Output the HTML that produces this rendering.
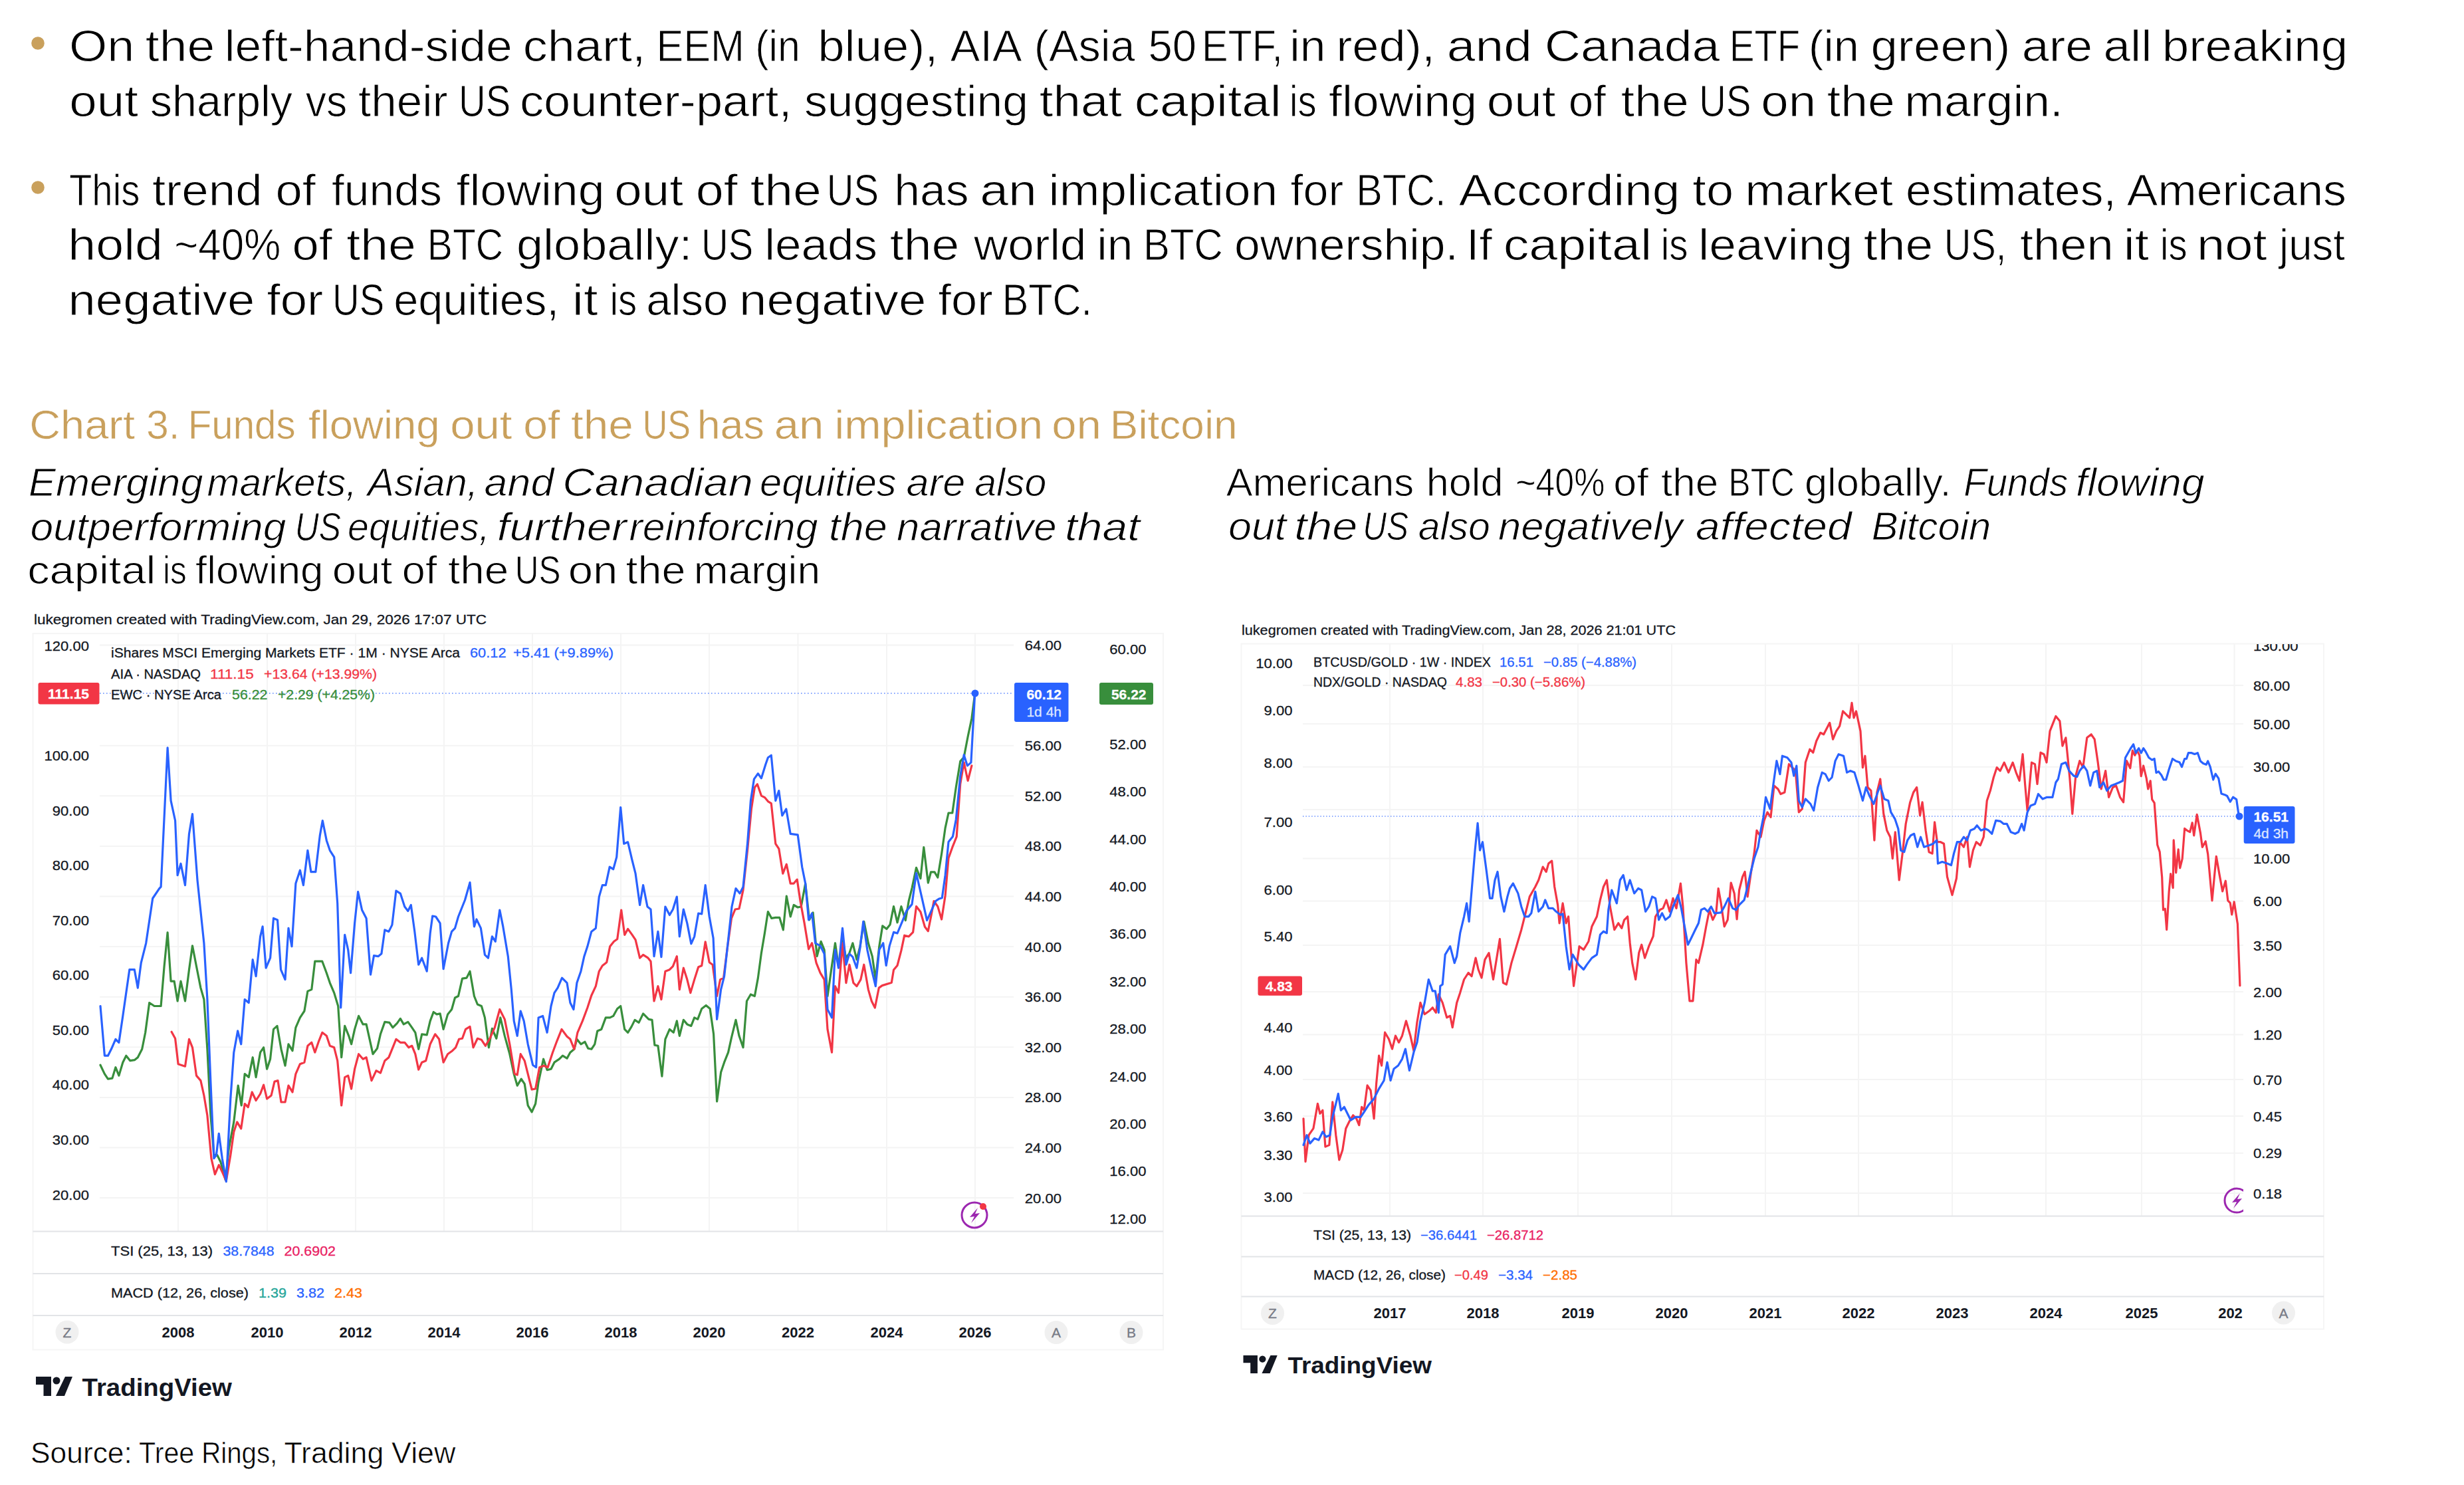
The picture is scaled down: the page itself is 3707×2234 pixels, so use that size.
<!DOCTYPE html>
<html><head><meta charset="utf-8"><style>
html,body{margin:0;padding:0;background:#fff;width:3707px;height:2234px;overflow:hidden}
svg{display:block}
text{font-family:"Liberation Sans",sans-serif}
</style></head><body>
<svg width="3707" height="2234" viewBox="0 0 3707 2234" font-family="Liberation Sans, sans-serif"><defs><clipPath id="clipL"><rect x="50" y="954" width="1475" height="898"/></clipPath><clipPath id="clipR"><rect x="1868" y="969" width="1507" height="860"/></clipPath><clipPath id="clipBolt"><rect x="3330" y="1770" width="45" height="80"/></clipPath></defs><circle cx="57" cy="65" r="9.8" fill="#C9A05C"/>
<circle cx="57" cy="282" r="9.8" fill="#C9A05C"/>
<text x="104.01" y="92.2" font-size="67" fill="#000" textLength="98.27" lengthAdjust="spacingAndGlyphs" stroke="#fff" stroke-width="1.0">On</text>
<text x="218.86" y="92.2" font-size="67" fill="#000" textLength="104.48" lengthAdjust="spacingAndGlyphs" stroke="#fff" stroke-width="1.0">the</text>
<text x="337.68" y="92.2" font-size="67" fill="#000" textLength="432.99" lengthAdjust="spacingAndGlyphs" stroke="#fff" stroke-width="1.0">left-hand-side</text>
<text x="786.86" y="92.2" font-size="67" fill="#000" textLength="184.78" lengthAdjust="spacingAndGlyphs" stroke="#fff" stroke-width="1.0">chart,</text>
<text x="987.48" y="92.2" font-size="67" fill="#000" textLength="132.53" lengthAdjust="spacingAndGlyphs" stroke="#fff" stroke-width="1.0">EEM</text>
<text x="1136.22" y="92.2" font-size="67" fill="#000" textLength="67.74" lengthAdjust="spacingAndGlyphs" stroke="#fff" stroke-width="1.0">(in</text>
<text x="1230.33" y="92.2" font-size="67" fill="#000" textLength="181.18" lengthAdjust="spacingAndGlyphs" stroke="#fff" stroke-width="1.0">blue),</text>
<text x="1429.87" y="92.2" font-size="67" fill="#000" textLength="107.76" lengthAdjust="spacingAndGlyphs" stroke="#fff" stroke-width="1.0">AIA</text>
<text x="1555.87" y="92.2" font-size="67" fill="#000" textLength="151.63" lengthAdjust="spacingAndGlyphs" stroke="#fff" stroke-width="1.0">(Asia</text>
<text x="1727.38" y="92.2" font-size="67" fill="#000" textLength="72.67" lengthAdjust="spacingAndGlyphs" stroke="#fff" stroke-width="1.0">50</text>
<text x="1808.0" y="92.2" font-size="67" fill="#000" textLength="121.93" lengthAdjust="spacingAndGlyphs" stroke="#fff" stroke-width="1.0">ETF,</text>
<text x="1940.34" y="92.2" font-size="67" fill="#000" textLength="54.18" lengthAdjust="spacingAndGlyphs" stroke="#fff" stroke-width="1.0">in</text>
<text x="2010.19" y="92.2" font-size="67" fill="#000" textLength="148.81" lengthAdjust="spacingAndGlyphs" stroke="#fff" stroke-width="1.0">red),</text>
<text x="2176.74" y="92.2" font-size="67" fill="#000" textLength="128.22" lengthAdjust="spacingAndGlyphs" stroke="#fff" stroke-width="1.0">and</text>
<text x="2323.68" y="92.2" font-size="67" fill="#000" textLength="263.82" lengthAdjust="spacingAndGlyphs" stroke="#fff" stroke-width="1.0">Canada</text>
<text x="2601.92" y="92.2" font-size="67" fill="#000" textLength="106.29" lengthAdjust="spacingAndGlyphs" stroke="#fff" stroke-width="1.0">ETF</text>
<text x="2720.75" y="92.2" font-size="67" fill="#000" textLength="76.21" lengthAdjust="spacingAndGlyphs" stroke="#fff" stroke-width="1.0">(in</text>
<text x="2814.45" y="92.2" font-size="67" fill="#000" textLength="210.06" lengthAdjust="spacingAndGlyphs" stroke="#fff" stroke-width="1.0">green)</text>
<text x="3041.87" y="92.2" font-size="67" fill="#000" textLength="106.4" lengthAdjust="spacingAndGlyphs" stroke="#fff" stroke-width="1.0">are</text>
<text x="3164.4" y="92.2" font-size="67" fill="#000" textLength="72.98" lengthAdjust="spacingAndGlyphs" stroke="#fff" stroke-width="1.0">all</text>
<text x="3252.81" y="92.2" font-size="67" fill="#000" textLength="279.39" lengthAdjust="spacingAndGlyphs" stroke="#fff" stroke-width="1.0">breaking</text>
<text x="104.37" y="174.5" font-size="67" fill="#000" textLength="103.68" lengthAdjust="spacingAndGlyphs" stroke="#fff" stroke-width="1.0">out</text>
<text x="225.65" y="174.5" font-size="67" fill="#000" textLength="214.48" lengthAdjust="spacingAndGlyphs" stroke="#fff" stroke-width="1.0">sharply</text>
<text x="459.79" y="174.5" font-size="67" fill="#000" textLength="62.47" lengthAdjust="spacingAndGlyphs" stroke="#fff" stroke-width="1.0">vs</text>
<text x="538.95" y="174.5" font-size="67" fill="#000" textLength="134.7" lengthAdjust="spacingAndGlyphs" stroke="#fff" stroke-width="1.0">their</text>
<text x="690.03" y="174.5" font-size="67" fill="#000" textLength="78.18" lengthAdjust="spacingAndGlyphs" stroke="#fff" stroke-width="1.0">US</text>
<text x="781.93" y="174.5" font-size="67" fill="#000" textLength="409.56" lengthAdjust="spacingAndGlyphs" stroke="#fff" stroke-width="1.0">counter-part,</text>
<text x="1210.06" y="174.5" font-size="67" fill="#000" textLength="336.93" lengthAdjust="spacingAndGlyphs" stroke="#fff" stroke-width="1.0">suggesting</text>
<text x="1563.87" y="174.5" font-size="67" fill="#000" textLength="124.17" lengthAdjust="spacingAndGlyphs" stroke="#fff" stroke-width="1.0">that</text>
<text x="1706.75" y="174.5" font-size="67" fill="#000" textLength="220.86" lengthAdjust="spacingAndGlyphs" stroke="#fff" stroke-width="1.0">capital</text>
<text x="1940.06" y="174.5" font-size="67" fill="#000" textLength="40.64" lengthAdjust="spacingAndGlyphs" stroke="#fff" stroke-width="1.0">is</text>
<text x="1998.98" y="174.5" font-size="67" fill="#000" textLength="223.14" lengthAdjust="spacingAndGlyphs" stroke="#fff" stroke-width="1.0">flowing</text>
<text x="2236.87" y="174.5" font-size="67" fill="#000" textLength="103.68" lengthAdjust="spacingAndGlyphs" stroke="#fff" stroke-width="1.0">out</text>
<text x="2359.67" y="174.5" font-size="67" fill="#000" textLength="56.23" lengthAdjust="spacingAndGlyphs" stroke="#fff" stroke-width="1.0">of</text>
<text x="2438.89" y="174.5" font-size="67" fill="#000" textLength="101.87" lengthAdjust="spacingAndGlyphs" stroke="#fff" stroke-width="1.0">the</text>
<text x="2556.28" y="174.5" font-size="67" fill="#000" textLength="78.18" lengthAdjust="spacingAndGlyphs" stroke="#fff" stroke-width="1.0">US</text>
<text x="2649.37" y="174.5" font-size="67" fill="#000" textLength="82.98" lengthAdjust="spacingAndGlyphs" stroke="#fff" stroke-width="1.0">on</text>
<text x="2748.89" y="174.5" font-size="67" fill="#000" textLength="101.87" lengthAdjust="spacingAndGlyphs" stroke="#fff" stroke-width="1.0">the</text>
<text x="2865.24" y="174.5" font-size="67" fill="#000" textLength="238.79" lengthAdjust="spacingAndGlyphs" stroke="#fff" stroke-width="1.0">margin.</text>
<text x="103.97" y="309.3" font-size="67" fill="#000" textLength="106.32" lengthAdjust="spacingAndGlyphs" stroke="#fff" stroke-width="1.0">This</text>
<text x="228.9" y="309.3" font-size="67" fill="#000" textLength="165.79" lengthAdjust="spacingAndGlyphs" stroke="#fff" stroke-width="1.0">trend</text>
<text x="414.46" y="309.3" font-size="67" fill="#000" textLength="60.44" lengthAdjust="spacingAndGlyphs" stroke="#fff" stroke-width="1.0">of</text>
<text x="499.04" y="309.3" font-size="67" fill="#000" textLength="165.91" lengthAdjust="spacingAndGlyphs" stroke="#fff" stroke-width="1.0">funds</text>
<text x="686.48" y="309.3" font-size="67" fill="#000" textLength="223.14" lengthAdjust="spacingAndGlyphs" stroke="#fff" stroke-width="1.0">flowing</text>
<text x="924.37" y="309.3" font-size="67" fill="#000" textLength="103.68" lengthAdjust="spacingAndGlyphs" stroke="#fff" stroke-width="1.0">out</text>
<text x="1046.82" y="309.3" font-size="67" fill="#000" textLength="63.06" lengthAdjust="spacingAndGlyphs" stroke="#fff" stroke-width="1.0">of</text>
<text x="1128.83" y="309.3" font-size="67" fill="#000" textLength="107.09" lengthAdjust="spacingAndGlyphs" stroke="#fff" stroke-width="1.0">the</text>
<text x="1243.78" y="309.3" font-size="67" fill="#000" textLength="78.18" lengthAdjust="spacingAndGlyphs" stroke="#fff" stroke-width="1.0">US</text>
<text x="1345.17" y="309.3" font-size="67" fill="#000" textLength="112.35" lengthAdjust="spacingAndGlyphs" stroke="#fff" stroke-width="1.0">has</text>
<text x="1474.22" y="309.3" font-size="67" fill="#000" textLength="85.78" lengthAdjust="spacingAndGlyphs" stroke="#fff" stroke-width="1.0">an</text>
<text x="1577.62" y="309.3" font-size="67" fill="#000" textLength="344.62" lengthAdjust="spacingAndGlyphs" stroke="#fff" stroke-width="1.0">implication</text>
<text x="1941.53" y="309.3" font-size="67" fill="#000" textLength="79.6" lengthAdjust="spacingAndGlyphs" stroke="#fff" stroke-width="1.0">for</text>
<text x="2040.13" y="309.3" font-size="67" fill="#000" textLength="135.3" lengthAdjust="spacingAndGlyphs" stroke="#fff" stroke-width="1.0">BTC.</text>
<text x="2194.85" y="309.3" font-size="67" fill="#000" textLength="332.46" lengthAdjust="spacingAndGlyphs" stroke="#fff" stroke-width="1.0">According</text>
<text x="2546.38" y="309.3" font-size="67" fill="#000" textLength="61.73" lengthAdjust="spacingAndGlyphs" stroke="#fff" stroke-width="1.0">to</text>
<text x="2625.16" y="309.3" font-size="67" fill="#000" textLength="222.88" lengthAdjust="spacingAndGlyphs" stroke="#fff" stroke-width="1.0">market</text>
<text x="2867.05" y="309.3" font-size="67" fill="#000" textLength="316.7" lengthAdjust="spacingAndGlyphs" stroke="#fff" stroke-width="1.0">estimates,</text>
<text x="3199.86" y="309.3" font-size="67" fill="#000" textLength="330.16" lengthAdjust="spacingAndGlyphs" stroke="#fff" stroke-width="1.0">Americans</text>
<text x="102.27" y="391" font-size="67" fill="#000" textLength="142.59" lengthAdjust="spacingAndGlyphs" stroke="#fff" stroke-width="1.0">hold</text>
<text x="262.22" y="391" font-size="67" fill="#000" textLength="159.99" lengthAdjust="spacingAndGlyphs" stroke="#fff" stroke-width="1.0">~40%</text>
<text x="439.46" y="391" font-size="67" fill="#000" textLength="60.44" lengthAdjust="spacingAndGlyphs" stroke="#fff" stroke-width="1.0">of</text>
<text x="521.36" y="391" font-size="67" fill="#000" textLength="104.48" lengthAdjust="spacingAndGlyphs" stroke="#fff" stroke-width="1.0">the</text>
<text x="642.81" y="391" font-size="67" fill="#000" textLength="114.37" lengthAdjust="spacingAndGlyphs" stroke="#fff" stroke-width="1.0">BTC</text>
<text x="776.97" y="391" font-size="67" fill="#000" textLength="264.61" lengthAdjust="spacingAndGlyphs" stroke="#fff" stroke-width="1.0">globally:</text>
<text x="1055.03" y="391" font-size="67" fill="#000" textLength="78.18" lengthAdjust="spacingAndGlyphs" stroke="#fff" stroke-width="1.0">US</text>
<text x="1150.21" y="391" font-size="67" fill="#000" textLength="169.85" lengthAdjust="spacingAndGlyphs" stroke="#fff" stroke-width="1.0">leads</text>
<text x="1338.86" y="391" font-size="67" fill="#000" textLength="104.48" lengthAdjust="spacingAndGlyphs" stroke="#fff" stroke-width="1.0">the</text>
<text x="1465.1" y="391" font-size="67" fill="#000" textLength="169.47" lengthAdjust="spacingAndGlyphs" stroke="#fff" stroke-width="1.0">world</text>
<text x="1650.34" y="391" font-size="67" fill="#000" textLength="54.18" lengthAdjust="spacingAndGlyphs" stroke="#fff" stroke-width="1.0">in</text>
<text x="1720.09" y="391" font-size="67" fill="#000" textLength="119.69" lengthAdjust="spacingAndGlyphs" stroke="#fff" stroke-width="1.0">BTC</text>
<text x="1857.08" y="391" font-size="67" fill="#000" textLength="336.78" lengthAdjust="spacingAndGlyphs" stroke="#fff" stroke-width="1.0">ownership.</text>
<text x="2206.05" y="391" font-size="67" fill="#000" textLength="38.85" lengthAdjust="spacingAndGlyphs" stroke="#fff" stroke-width="1.0">If</text>
<text x="2261.72" y="391" font-size="67" fill="#000" textLength="223.46" lengthAdjust="spacingAndGlyphs" stroke="#fff" stroke-width="1.0">capital</text>
<text x="2498.72" y="391" font-size="67" fill="#000" textLength="40.82" lengthAdjust="spacingAndGlyphs" stroke="#fff" stroke-width="1.0">is</text>
<text x="2555.06" y="391" font-size="67" fill="#000" textLength="232.16" lengthAdjust="spacingAndGlyphs" stroke="#fff" stroke-width="1.0">leaving</text>
<text x="2803.86" y="391" font-size="67" fill="#000" textLength="104.48" lengthAdjust="spacingAndGlyphs" stroke="#fff" stroke-width="1.0">the</text>
<text x="2924.7" y="391" font-size="67" fill="#000" textLength="93.82" lengthAdjust="spacingAndGlyphs" stroke="#fff" stroke-width="1.0">US,</text>
<text x="3038.91" y="391" font-size="67" fill="#000" textLength="140.79" lengthAdjust="spacingAndGlyphs" stroke="#fff" stroke-width="1.0">then</text>
<text x="3194.89" y="391" font-size="67" fill="#000" textLength="38.17" lengthAdjust="spacingAndGlyphs" stroke="#fff" stroke-width="1.0">it</text>
<text x="3250.06" y="391" font-size="67" fill="#000" textLength="40.64" lengthAdjust="spacingAndGlyphs" stroke="#fff" stroke-width="1.0">is</text>
<text x="3304.96" y="391" font-size="67" fill="#000" textLength="105.6" lengthAdjust="spacingAndGlyphs" stroke="#fff" stroke-width="1.0">not</text>
<text x="3429.05" y="391" font-size="67" fill="#000" textLength="98.91" lengthAdjust="spacingAndGlyphs" stroke="#fff" stroke-width="1.0">just</text>
<text x="102.57" y="473.5" font-size="67" fill="#000" textLength="280.73" lengthAdjust="spacingAndGlyphs" stroke="#fff" stroke-width="1.0">negative</text>
<text x="401.47" y="473.5" font-size="67" fill="#000" textLength="84.73" lengthAdjust="spacingAndGlyphs" stroke="#fff" stroke-width="1.0">for</text>
<text x="500.03" y="473.5" font-size="67" fill="#000" textLength="78.18" lengthAdjust="spacingAndGlyphs" stroke="#fff" stroke-width="1.0">US</text>
<text x="592.16" y="473.5" font-size="67" fill="#000" textLength="248.84" lengthAdjust="spacingAndGlyphs" stroke="#fff" stroke-width="1.0">equities,</text>
<text x="860.76" y="473.5" font-size="67" fill="#000" textLength="38.86" lengthAdjust="spacingAndGlyphs" stroke="#fff" stroke-width="1.0">it</text>
<text x="917.56" y="473.5" font-size="67" fill="#000" textLength="40.64" lengthAdjust="spacingAndGlyphs" stroke="#fff" stroke-width="1.0">is</text>
<text x="972.15" y="473.5" font-size="67" fill="#000" textLength="123.17" lengthAdjust="spacingAndGlyphs" stroke="#fff" stroke-width="1.0">also</text>
<text x="1112.06" y="473.5" font-size="67" fill="#000" textLength="281.25" lengthAdjust="spacingAndGlyphs" stroke="#fff" stroke-width="1.0">negative</text>
<text x="1411.5" y="473.5" font-size="67" fill="#000" textLength="82.17" lengthAdjust="spacingAndGlyphs" stroke="#fff" stroke-width="1.0">for</text>
<text x="1507.63" y="473.5" font-size="67" fill="#000" textLength="135.3" lengthAdjust="spacingAndGlyphs" stroke="#fff" stroke-width="1.0">BTC.</text>
<text x="44.2" y="659.5" font-size="62" fill="#C9A05C" textLength="158.77" lengthAdjust="spacingAndGlyphs" stroke="#fff" stroke-width="0.6">Chart</text>
<text x="220.2" y="659.5" font-size="62" fill="#C9A05C" textLength="50.3" lengthAdjust="spacingAndGlyphs" stroke="#fff" stroke-width="0.6">3.</text>
<text x="282.72" y="659.5" font-size="62" fill="#C9A05C" textLength="161.88" lengthAdjust="spacingAndGlyphs" stroke="#fff" stroke-width="0.6">Funds</text>
<text x="464.1" y="659.5" font-size="62" fill="#C9A05C" textLength="197.49" lengthAdjust="spacingAndGlyphs" stroke="#fff" stroke-width="0.6">flowing</text>
<text x="677.18" y="659.5" font-size="62" fill="#C9A05C" textLength="93.31" lengthAdjust="spacingAndGlyphs" stroke="#fff" stroke-width="0.6">out</text>
<text x="787.22" y="659.5" font-size="62" fill="#C9A05C" textLength="55.18" lengthAdjust="spacingAndGlyphs" stroke="#fff" stroke-width="0.6">of</text>
<text x="858.98" y="659.5" font-size="62" fill="#C9A05C" textLength="94.03" lengthAdjust="spacingAndGlyphs" stroke="#fff" stroke-width="0.6">the</text>
<text x="966.76" y="659.5" font-size="62" fill="#C9A05C" textLength="72.35" lengthAdjust="spacingAndGlyphs" stroke="#fff" stroke-width="0.6">US</text>
<text x="1048.65" y="659.5" font-size="62" fill="#C9A05C" textLength="101.11" lengthAdjust="spacingAndGlyphs" stroke="#fff" stroke-width="0.6">has</text>
<text x="1164.65" y="659.5" font-size="62" fill="#C9A05C" textLength="74.72" lengthAdjust="spacingAndGlyphs" stroke="#fff" stroke-width="0.6">an</text>
<text x="1255.56" y="659.5" font-size="62" fill="#C9A05C" textLength="313.76" lengthAdjust="spacingAndGlyphs" stroke="#fff" stroke-width="0.6">implication</text>
<text x="1582.18" y="659.5" font-size="62" fill="#C9A05C" textLength="74.68" lengthAdjust="spacingAndGlyphs" stroke="#fff" stroke-width="0.6">on</text>
<text x="1669.76" y="659.5" font-size="62" fill="#C9A05C" textLength="191.9" lengthAdjust="spacingAndGlyphs" stroke="#fff" stroke-width="0.6">Bitcoin</text>
<text x="43.11" y="746" font-size="59" fill="#000" font-style="italic" textLength="262.43" lengthAdjust="spacingAndGlyphs" stroke="#fff" stroke-width="1.0">Emerging</text>
<text x="311.52" y="746" font-size="59" fill="#000" font-style="italic" textLength="225.3" lengthAdjust="spacingAndGlyphs" stroke="#fff" stroke-width="1.0">markets,</text>
<text x="552.95" y="746" font-size="59" fill="#000" font-style="italic" textLength="166.51" lengthAdjust="spacingAndGlyphs" stroke="#fff" stroke-width="1.0">Asian,</text>
<text x="728.59" y="746" font-size="59" fill="#000" font-style="italic" textLength="104.75" lengthAdjust="spacingAndGlyphs" stroke="#fff" stroke-width="1.0">and</text>
<text x="846.3" y="746" font-size="59" fill="#000" font-style="italic" textLength="286.74" lengthAdjust="spacingAndGlyphs" stroke="#fff" stroke-width="1.0">Canadian</text>
<text x="1142.99" y="746" font-size="59" fill="#000" font-style="italic" textLength="205.74" lengthAdjust="spacingAndGlyphs" stroke="#fff" stroke-width="1.0">equities</text>
<text x="1363.62" y="746" font-size="59" fill="#000" font-style="italic" textLength="88.65" lengthAdjust="spacingAndGlyphs" stroke="#fff" stroke-width="1.0">are</text>
<text x="1466.18" y="746" font-size="59" fill="#000" font-style="italic" textLength="108.2" lengthAdjust="spacingAndGlyphs" stroke="#fff" stroke-width="1.0">also</text>
<text x="45.46" y="812.5" font-size="59" fill="#000" font-style="italic" textLength="385.09" lengthAdjust="spacingAndGlyphs" stroke="#fff" stroke-width="1.0">outperforming</text>
<text x="443.78" y="812.5" font-size="59" fill="#000" font-style="italic" textLength="69.26" lengthAdjust="spacingAndGlyphs" stroke="#fff" stroke-width="1.0">US</text>
<text x="523.07" y="812.5" font-size="59" fill="#000" font-style="italic" textLength="213.6" lengthAdjust="spacingAndGlyphs" stroke="#fff" stroke-width="1.0">equities,</text>
<text x="747.73" y="812.5" font-size="59" fill="#000" font-style="italic" textLength="195.0" lengthAdjust="spacingAndGlyphs" stroke="#fff" stroke-width="1.0">further</text>
<text x="946.49" y="812.5" font-size="59" fill="#000" font-style="italic" textLength="284.04" lengthAdjust="spacingAndGlyphs" stroke="#fff" stroke-width="1.0">reinforcing</text>
<text x="1247.13" y="812.5" font-size="59" fill="#000" font-style="italic" textLength="87.71" lengthAdjust="spacingAndGlyphs" stroke="#fff" stroke-width="1.0">the</text>
<text x="1348.97" y="812.5" font-size="59" fill="#000" font-style="italic" textLength="240.82" lengthAdjust="spacingAndGlyphs" stroke="#fff" stroke-width="1.0">narrative</text>
<text x="1601.92" y="812.5" font-size="59" fill="#000" font-style="italic" textLength="113.23" lengthAdjust="spacingAndGlyphs" stroke="#fff" stroke-width="1.0">that</text>
<text x="41.16" y="878" font-size="59" fill="#000" textLength="193.31" lengthAdjust="spacingAndGlyphs" stroke="#fff" stroke-width="1.0">capital</text>
<text x="245.09" y="878" font-size="59" fill="#000" textLength="35.79" lengthAdjust="spacingAndGlyphs" stroke="#fff" stroke-width="1.0">is</text>
<text x="294.12" y="878" font-size="59" fill="#000" textLength="192.36" lengthAdjust="spacingAndGlyphs" stroke="#fff" stroke-width="1.0">flowing</text>
<text x="499.76" y="878" font-size="59" fill="#000" textLength="90.72" lengthAdjust="spacingAndGlyphs" stroke="#fff" stroke-width="1.0">out</text>
<text x="604.85" y="878" font-size="59" fill="#000" textLength="52.55" lengthAdjust="spacingAndGlyphs" stroke="#fff" stroke-width="1.0">of</text>
<text x="674.0" y="878" font-size="59" fill="#000" textLength="91.42" lengthAdjust="spacingAndGlyphs" stroke="#fff" stroke-width="1.0">the</text>
<text x="774.8" y="878" font-size="59" fill="#000" textLength="68.85" lengthAdjust="spacingAndGlyphs" stroke="#fff" stroke-width="1.0">US</text>
<text x="854.68" y="878" font-size="59" fill="#000" textLength="74.68" lengthAdjust="spacingAndGlyphs" stroke="#fff" stroke-width="1.0">on</text>
<text x="941.52" y="878" font-size="59" fill="#000" textLength="89.85" lengthAdjust="spacingAndGlyphs" stroke="#fff" stroke-width="1.0">the</text>
<text x="1043.87" y="878" font-size="59" fill="#000" textLength="190.17" lengthAdjust="spacingAndGlyphs" stroke="#fff" stroke-width="1.0">margin</text>
<text x="1844.88" y="746" font-size="59" fill="#000" textLength="282.28" lengthAdjust="spacingAndGlyphs" stroke="#fff" stroke-width="1.0">Americans</text>
<text x="2145.76" y="746" font-size="59" fill="#000" textLength="115.69" lengthAdjust="spacingAndGlyphs" stroke="#fff" stroke-width="1.0">hold</text>
<text x="2280.17" y="746" font-size="59" fill="#000" textLength="134.18" lengthAdjust="spacingAndGlyphs" stroke="#fff" stroke-width="1.0">~40%</text>
<text x="2427.35" y="746" font-size="59" fill="#000" textLength="52.55" lengthAdjust="spacingAndGlyphs" stroke="#fff" stroke-width="1.0">of</text>
<text x="2499.06" y="746" font-size="59" fill="#000" textLength="86.19" lengthAdjust="spacingAndGlyphs" stroke="#fff" stroke-width="1.0">the</text>
<text x="2600.6" y="746" font-size="59" fill="#000" textLength="99.12" lengthAdjust="spacingAndGlyphs" stroke="#fff" stroke-width="1.0">BTC</text>
<text x="2714.98" y="746" font-size="59" fill="#000" textLength="220.51" lengthAdjust="spacingAndGlyphs" stroke="#fff" stroke-width="1.0">globally.</text>
<text x="2954.26" y="746" font-size="59" fill="#000" font-style="italic" textLength="156.89" lengthAdjust="spacingAndGlyphs" stroke="#fff" stroke-width="1.0">Funds</text>
<text x="3122.9" y="746" font-size="59" fill="#000" font-style="italic" textLength="193.64" lengthAdjust="spacingAndGlyphs" stroke="#fff" stroke-width="1.0">flowing</text>
<text x="1847.94" y="812" font-size="59" fill="#000" font-style="italic" textLength="87.38" lengthAdjust="spacingAndGlyphs" stroke="#fff" stroke-width="1.0">out</text>
<text x="1947.15" y="812" font-size="59" fill="#000" font-style="italic" textLength="95.14" lengthAdjust="spacingAndGlyphs" stroke="#fff" stroke-width="1.0">the</text>
<text x="2050.24" y="812" font-size="59" fill="#000" font-style="italic" textLength="68.85" lengthAdjust="spacingAndGlyphs" stroke="#fff" stroke-width="1.0">US</text>
<text x="2133.68" y="812" font-size="59" fill="#000" font-style="italic" textLength="108.2" lengthAdjust="spacingAndGlyphs" stroke="#fff" stroke-width="1.0">also</text>
<text x="2253.98" y="812" font-size="59" fill="#000" font-style="italic" textLength="277.92" lengthAdjust="spacingAndGlyphs" stroke="#fff" stroke-width="1.0">negatively</text>
<text x="2551.02" y="812" font-size="59" fill="#000" font-style="italic" textLength="234.74" lengthAdjust="spacingAndGlyphs" stroke="#fff" stroke-width="1.0">affected</text>
<text x="2815.66" y="812" font-size="59" fill="#000" font-style="italic" textLength="179.56" lengthAdjust="spacingAndGlyphs" stroke="#fff" stroke-width="1.0">Bitcoin</text>
<text x="45.99" y="2200.5" font-size="45" fill="#000" textLength="152.86" lengthAdjust="spacingAndGlyphs" stroke="#fff" stroke-width="0.6">Source:</text>
<text x="209.09" y="2200.5" font-size="45" fill="#000" textLength="83.21" lengthAdjust="spacingAndGlyphs" stroke="#fff" stroke-width="0.6">Tree</text>
<text x="303.2" y="2200.5" font-size="45" fill="#000" textLength="114.12" lengthAdjust="spacingAndGlyphs" stroke="#fff" stroke-width="0.6">Rings,</text>
<text x="427.41" y="2200.5" font-size="45" fill="#000" textLength="149.84" lengthAdjust="spacingAndGlyphs" stroke="#fff" stroke-width="0.6">Trading</text>
<text x="589.0" y="2200.5" font-size="45" fill="#000" textLength="96.49" lengthAdjust="spacingAndGlyphs" stroke="#fff" stroke-width="0.6">View</text>
<text x="51" y="939" font-size="21" fill="#131722" textLength="681" lengthAdjust="spacingAndGlyphs" stroke="#131722" stroke-width="0.3">lukegromen created with TradingView.com, Jan 29, 2026 17:07 UTC</text>
<rect x="49.5" y="953" width="1700.5" height="1077.5" fill="none" stroke="#F5F5F5" stroke-width="2"/>
<line x1="268" y1="953" x2="268" y2="1852" stroke="#F4F4F4" stroke-width="2"/>
<line x1="402" y1="953" x2="402" y2="1852" stroke="#F4F4F4" stroke-width="2"/>
<line x1="535" y1="953" x2="535" y2="1852" stroke="#F4F4F4" stroke-width="2"/>
<line x1="668" y1="953" x2="668" y2="1852" stroke="#F4F4F4" stroke-width="2"/>
<line x1="801" y1="953" x2="801" y2="1852" stroke="#F4F4F4" stroke-width="2"/>
<line x1="934" y1="953" x2="934" y2="1852" stroke="#F4F4F4" stroke-width="2"/>
<line x1="1067" y1="953" x2="1067" y2="1852" stroke="#F4F4F4" stroke-width="2"/>
<line x1="1200.5" y1="953" x2="1200.5" y2="1852" stroke="#F4F4F4" stroke-width="2"/>
<line x1="1334" y1="953" x2="1334" y2="1852" stroke="#F4F4F4" stroke-width="2"/>
<line x1="1467" y1="953" x2="1467" y2="1852" stroke="#F4F4F4" stroke-width="2"/>
<line x1="150" y1="970.5" x2="1525" y2="970.5" stroke="#F4F4F4" stroke-width="2"/>
<line x1="150" y1="1121.7" x2="1525" y2="1121.7" stroke="#F4F4F4" stroke-width="2"/>
<line x1="150" y1="1197.3" x2="1525" y2="1197.3" stroke="#F4F4F4" stroke-width="2"/>
<line x1="150" y1="1272.9" x2="1525" y2="1272.9" stroke="#F4F4F4" stroke-width="2"/>
<line x1="150" y1="1348.5" x2="1525" y2="1348.5" stroke="#F4F4F4" stroke-width="2"/>
<line x1="150" y1="1424.1" x2="1525" y2="1424.1" stroke="#F4F4F4" stroke-width="2"/>
<line x1="150" y1="1499.7" x2="1525" y2="1499.7" stroke="#F4F4F4" stroke-width="2"/>
<line x1="150" y1="1575.3" x2="1525" y2="1575.3" stroke="#F4F4F4" stroke-width="2"/>
<line x1="150" y1="1650.9" x2="1525" y2="1650.9" stroke="#F4F4F4" stroke-width="2"/>
<line x1="150" y1="1726.5" x2="1525" y2="1726.5" stroke="#F4F4F4" stroke-width="2"/>
<line x1="150" y1="1802.1" x2="1525" y2="1802.1" stroke="#F4F4F4" stroke-width="2"/>
<line x1="49.5" y1="1852.5" x2="1750" y2="1852.5" stroke="#E2E4E7" stroke-width="2"/>
<line x1="49.5" y1="1916" x2="1750" y2="1916" stroke="#E2E4E7" stroke-width="2"/>
<line x1="49.5" y1="1979" x2="1750" y2="1979" stroke="#E2E4E7" stroke-width="2"/>
<text x="134" y="979.0" font-size="21" fill="#131722" text-anchor="end" textLength="67.44" lengthAdjust="spacingAndGlyphs" stroke="#131722" stroke-width="0.3">120.00</text>
<text x="134" y="1144.1" font-size="21" fill="#131722" text-anchor="end" textLength="67.44" lengthAdjust="spacingAndGlyphs" stroke="#131722" stroke-width="0.3">100.00</text>
<text x="134" y="1226.7" font-size="21" fill="#131722" text-anchor="end" textLength="55.18" lengthAdjust="spacingAndGlyphs" stroke="#131722" stroke-width="0.3">90.00</text>
<text x="134" y="1309.2" font-size="21" fill="#131722" text-anchor="end" textLength="55.18" lengthAdjust="spacingAndGlyphs" stroke="#131722" stroke-width="0.3">80.00</text>
<text x="134" y="1391.8" font-size="21" fill="#131722" text-anchor="end" textLength="55.18" lengthAdjust="spacingAndGlyphs" stroke="#131722" stroke-width="0.3">70.00</text>
<text x="134" y="1474.3" font-size="21" fill="#131722" text-anchor="end" textLength="55.18" lengthAdjust="spacingAndGlyphs" stroke="#131722" stroke-width="0.3">60.00</text>
<text x="134" y="1556.8" font-size="21" fill="#131722" text-anchor="end" textLength="55.18" lengthAdjust="spacingAndGlyphs" stroke="#131722" stroke-width="0.3">50.00</text>
<text x="134" y="1639.4" font-size="21" fill="#131722" text-anchor="end" textLength="55.18" lengthAdjust="spacingAndGlyphs" stroke="#131722" stroke-width="0.3">40.00</text>
<text x="134" y="1722.0" font-size="21" fill="#131722" text-anchor="end" textLength="55.18" lengthAdjust="spacingAndGlyphs" stroke="#131722" stroke-width="0.3">30.00</text>
<text x="134" y="1804.5" font-size="21" fill="#131722" text-anchor="end" textLength="55.18" lengthAdjust="spacingAndGlyphs" stroke="#131722" stroke-width="0.3">20.00</text>
<text x="1597" y="978.0" font-size="21" fill="#131722" text-anchor="end" textLength="55.18" lengthAdjust="spacingAndGlyphs" stroke="#131722" stroke-width="0.3">64.00</text>
<text x="1597" y="1129.2" font-size="21" fill="#131722" text-anchor="end" textLength="55.18" lengthAdjust="spacingAndGlyphs" stroke="#131722" stroke-width="0.3">56.00</text>
<text x="1597" y="1204.8" font-size="21" fill="#131722" text-anchor="end" textLength="55.18" lengthAdjust="spacingAndGlyphs" stroke="#131722" stroke-width="0.3">52.00</text>
<text x="1597" y="1280.4" font-size="21" fill="#131722" text-anchor="end" textLength="55.18" lengthAdjust="spacingAndGlyphs" stroke="#131722" stroke-width="0.3">48.00</text>
<text x="1597" y="1356.0" font-size="21" fill="#131722" text-anchor="end" textLength="55.18" lengthAdjust="spacingAndGlyphs" stroke="#131722" stroke-width="0.3">44.00</text>
<text x="1597" y="1431.6" font-size="21" fill="#131722" text-anchor="end" textLength="55.18" lengthAdjust="spacingAndGlyphs" stroke="#131722" stroke-width="0.3">40.00</text>
<text x="1597" y="1507.2" font-size="21" fill="#131722" text-anchor="end" textLength="55.18" lengthAdjust="spacingAndGlyphs" stroke="#131722" stroke-width="0.3">36.00</text>
<text x="1597" y="1582.8" font-size="21" fill="#131722" text-anchor="end" textLength="55.18" lengthAdjust="spacingAndGlyphs" stroke="#131722" stroke-width="0.3">32.00</text>
<text x="1597" y="1658.4" font-size="21" fill="#131722" text-anchor="end" textLength="55.18" lengthAdjust="spacingAndGlyphs" stroke="#131722" stroke-width="0.3">28.00</text>
<text x="1597" y="1734.0" font-size="21" fill="#131722" text-anchor="end" textLength="55.18" lengthAdjust="spacingAndGlyphs" stroke="#131722" stroke-width="0.3">24.00</text>
<text x="1597" y="1809.6" font-size="21" fill="#131722" text-anchor="end" textLength="55.18" lengthAdjust="spacingAndGlyphs" stroke="#131722" stroke-width="0.3">20.00</text>
<text x="1724.5" y="984.0" font-size="21" fill="#131722" text-anchor="end" textLength="55.18" lengthAdjust="spacingAndGlyphs" stroke="#131722" stroke-width="0.3">60.00</text>
<text x="1724.5" y="1126.8" font-size="21" fill="#131722" text-anchor="end" textLength="55.18" lengthAdjust="spacingAndGlyphs" stroke="#131722" stroke-width="0.3">52.00</text>
<text x="1724.5" y="1198.2" font-size="21" fill="#131722" text-anchor="end" textLength="55.18" lengthAdjust="spacingAndGlyphs" stroke="#131722" stroke-width="0.3">48.00</text>
<text x="1724.5" y="1269.6" font-size="21" fill="#131722" text-anchor="end" textLength="55.18" lengthAdjust="spacingAndGlyphs" stroke="#131722" stroke-width="0.3">44.00</text>
<text x="1724.5" y="1341.0" font-size="21" fill="#131722" text-anchor="end" textLength="55.18" lengthAdjust="spacingAndGlyphs" stroke="#131722" stroke-width="0.3">40.00</text>
<text x="1724.5" y="1412.4" font-size="21" fill="#131722" text-anchor="end" textLength="55.18" lengthAdjust="spacingAndGlyphs" stroke="#131722" stroke-width="0.3">36.00</text>
<text x="1724.5" y="1483.8" font-size="21" fill="#131722" text-anchor="end" textLength="55.18" lengthAdjust="spacingAndGlyphs" stroke="#131722" stroke-width="0.3">32.00</text>
<text x="1724.5" y="1555.2" font-size="21" fill="#131722" text-anchor="end" textLength="55.18" lengthAdjust="spacingAndGlyphs" stroke="#131722" stroke-width="0.3">28.00</text>
<text x="1724.5" y="1626.6" font-size="21" fill="#131722" text-anchor="end" textLength="55.18" lengthAdjust="spacingAndGlyphs" stroke="#131722" stroke-width="0.3">24.00</text>
<text x="1724.5" y="1698.0" font-size="21" fill="#131722" text-anchor="end" textLength="55.18" lengthAdjust="spacingAndGlyphs" stroke="#131722" stroke-width="0.3">20.00</text>
<text x="1724.5" y="1769.4" font-size="21" fill="#131722" text-anchor="end" textLength="55.18" lengthAdjust="spacingAndGlyphs" stroke="#131722" stroke-width="0.3">16.00</text>
<text x="1724.5" y="1840.8" font-size="21" fill="#131722" text-anchor="end" textLength="55.18" lengthAdjust="spacingAndGlyphs" stroke="#131722" stroke-width="0.3">12.00</text>
<text x="167" y="988.75" font-size="20" fill="#131722" textLength="525" lengthAdjust="spacingAndGlyphs" stroke="#131722" stroke-width="0.3">iShares MSCI Emerging Markets ETF · 1M · NYSE Arca</text>
<text x="707" y="988.75" font-size="20" fill="#2962FF" textLength="54.5" lengthAdjust="spacingAndGlyphs" stroke="#2962FF" stroke-width="0.3">60.12</text>
<text x="772" y="988.75" font-size="20" fill="#2962FF" textLength="151" lengthAdjust="spacingAndGlyphs" stroke="#2962FF" stroke-width="0.3">+5.41 (+9.89%)</text>
<text x="167" y="1020.5" font-size="20" fill="#131722" textLength="135" lengthAdjust="spacingAndGlyphs" stroke="#131722" stroke-width="0.3">AIA · NASDAQ</text>
<text x="316" y="1020.5" font-size="20" fill="#F23645" textLength="65.7" lengthAdjust="spacingAndGlyphs" stroke="#F23645" stroke-width="0.3">111.15</text>
<text x="397" y="1020.5" font-size="20" fill="#F23645" textLength="170" lengthAdjust="spacingAndGlyphs" stroke="#F23645" stroke-width="0.3">+13.64 (+13.99%)</text>
<line x1="150" y1="1043" x2="1525" y2="1043" stroke="#2962FF" stroke-opacity="0.75" stroke-width="1.6" stroke-dasharray="1.6 3.4"/>
<text x="167" y="1052" font-size="20" fill="#131722" textLength="166" lengthAdjust="spacingAndGlyphs" stroke="#131722" stroke-width="0.3">EWC · NYSE Arca</text>
<text x="349" y="1052" font-size="20" fill="#388E3C" textLength="53.5" lengthAdjust="spacingAndGlyphs" stroke="#388E3C" stroke-width="0.3">56.22</text>
<text x="418" y="1052" font-size="20" fill="#388E3C" textLength="146" lengthAdjust="spacingAndGlyphs" stroke="#388E3C" stroke-width="0.3">+2.29 (+4.25%)</text>
<g clip-path="url(#clipL)">
<polyline points="151.0,1602.2 157.4,1615.6 162.4,1623.1 168.9,1622.1 173.9,1605.7 178.9,1618.1 184.8,1598.2 189.8,1588.2 195.8,1595.7 202.3,1594.7 207.3,1590.7 213.7,1578.3 218.7,1553.3 224.7,1508.5 232.2,1513.5 242.1,1513.5 247.1,1453.7 252.1,1402.9 257.1,1476.1 262.1,1476.1 267.1,1506.0 272.0,1476.1 278.5,1506.0 284.5,1458.7 289.5,1422.8 295.5,1453.7 301.9,1486.1 306.9,1503.5 311.9,1578.3 316.9,1677.9 321.9,1737.7 326.8,1737.7 331.8,1747.7 339.3,1775.1 344.3,1727.7 351.8,1687.9 358.2,1633.1 363.2,1663.0 368.2,1615.6 374.2,1620.6 380.2,1590.7 385.1,1620.6 391.6,1583.2 396.6,1575.8 401.6,1608.2 406.6,1593.2 411.5,1548.4 417.0,1543.4 423.0,1578.3 429.0,1603.2 434.0,1570.8 440.0,1580.7 444.9,1545.9 451.4,1530.9 457.9,1521.0 462.9,1491.1 468.8,1488.6 473.8,1446.2 484.8,1446.2 491.3,1463.7 496.3,1478.6 502.7,1493.6 508.7,1513.5 513.7,1590.7 518.7,1543.4 524.7,1558.3 528.6,1570.8 533.6,1548.4 539.6,1528.4 546.1,1540.9 551.1,1540.9 561.0,1585.7 567.5,1577.3 572.4,1555.8 578.9,1537.4 585.9,1538.4 590.9,1545.9 597.4,1539.4 602.3,1532.4 607.3,1540.9 613.8,1537.4 619.8,1545.9 624.8,1553.3 629.7,1578.3 634.7,1555.8 642.2,1556.8 647.2,1535.9 652.2,1522.5 657.1,1525.9 662.1,1524.9 667.1,1548.4 673.6,1525.9 679.6,1518.5 684.5,1501.0 689.5,1498.5 695.5,1472.1 702.0,1471.1 707.0,1461.2 713.4,1498.5 718.4,1511.0 724.4,1513.5 729.4,1530.9 735.4,1575.8 740.4,1547.4 746.8,1562.3 752.8,1530.9 759.3,1558.3 766.8,1585.7 773.2,1615.6 778.2,1633.1 784.2,1623.1 789.2,1630.6 794.2,1663.0 800.1,1672.9 805.6,1660.5 810.1,1628.1 817.6,1593.2 823.1,1609.6 829.0,1608.2 834.0,1598.2 841.5,1593.2 846.5,1588.2 853.0,1592.2 857.9,1583.2 863.9,1578.3 867.9,1563.3 873.9,1570.8 879.9,1567.3 884.8,1577.3 889.8,1578.3 894.8,1570.8 898.8,1550.9 904.8,1548.4 911.3,1530.9 917.7,1530.9 922.7,1528.4 928.7,1517.5 933.7,1513.5 939.7,1548.4 944.6,1553.3 950.1,1544.4 955.1,1534.4 961.1,1538.4 967.6,1524.9 976.0,1533.4 981.0,1534.4 984.9,1572.3 989.9,1573.3 995.9,1619.1 1000.9,1563.3 1007.4,1548.4 1013.3,1553.3 1018.3,1535.9 1022.3,1558.3 1028.3,1534.4 1033.8,1540.9 1039.8,1543.4 1044.7,1530.9 1049.7,1533.4 1055.7,1517.5 1062.2,1512.5 1068.2,1517.5 1073.6,1555.8 1078.6,1657.0 1084.6,1613.1 1089.6,1598.2 1095.6,1583.2 1100.5,1560.8 1107.0,1534.4 1112.0,1558.3 1118.0,1575.8 1123.5,1506.0 1129.4,1496.0 1135.4,1498.5 1140.4,1471.1 1145.4,1433.8 1150.4,1403.9 1155.4,1371.5 1160.8,1381.4 1166.8,1380.4 1172.8,1380.4 1178.3,1398.9 1183.3,1348.1 1189.2,1379.0 1194.2,1361.5 1200.2,1365.0 1205.2,1364.0 1211.7,1329.1 1217.6,1383.9 1223.1,1373.0 1229.1,1438.7 1235.1,1416.3 1240.1,1428.8 1245.0,1498.5 1251.5,1452.7 1256.5,1418.8 1261.5,1453.7 1267.5,1414.8 1272.9,1441.2 1277.9,1433.8 1282.9,1418.8 1288.9,1443.7 1293.9,1423.8 1299.8,1386.4 1306.3,1418.8 1312.3,1438.7 1317.3,1473.6 1322.8,1423.8 1327.7,1392.9 1333.9,1397.5 1339.0,1391.1 1344.5,1363.6 1350.0,1387.8 1355.9,1363.6 1362.3,1384.6 1367.2,1355.5 1372.0,1336.1 1378.5,1305.4 1384.9,1321.6 1389.8,1274.7 1396.3,1328.1 1400.5,1311.9 1406.0,1311.9 1410.8,1320.0 1416.6,1284.4 1422.1,1245.6 1427.0,1223.0 1432.8,1223.0 1438.3,1184.2 1444.7,1145.4 1450.2,1139.0 1456.1,1108.3 1461.9,1080.8 1466.7,1043.6" fill="none" stroke="#388E3C" stroke-width="3.2" stroke-linejoin="round" stroke-linecap="round"/>
<polyline points="258.1,1552.3 263.6,1562.3 268.1,1600.7 278.5,1604.2 284.5,1563.3 289.5,1575.8 295.5,1618.1 301.9,1625.6 306.9,1648.0 311.9,1677.9 317.9,1742.7 323.4,1766.6 329.3,1752.6 335.3,1765.1 340.3,1776.6 346.8,1737.7 351.8,1702.8 356.7,1687.9 362.7,1697.8 368.2,1660.5 373.2,1665.5 379.2,1643.0 385.1,1655.5 391.6,1645.5 396.6,1632.1 401.6,1653.0 408.1,1648.0 413.0,1627.1 418.0,1625.6 423.0,1658.0 429.0,1658.0 434.0,1633.1 440.0,1643.0 444.9,1615.6 451.4,1600.7 457.9,1598.2 462.9,1573.3 468.8,1568.3 473.8,1583.2 479.8,1565.8 484.8,1553.3 491.3,1558.3 496.3,1573.3 502.7,1575.8 507.7,1595.7 513.7,1663.0 518.7,1620.6 523.7,1618.1 528.6,1638.0 533.6,1608.2 539.6,1585.7 546.1,1593.2 551.1,1590.7 559.0,1625.6 566.0,1610.6 572.4,1614.1 578.9,1595.7 584.9,1590.7 590.9,1575.8 595.9,1563.3 602.3,1568.3 608.8,1568.3 614.8,1575.8 619.8,1573.3 624.8,1585.7 629.7,1609.1 634.7,1598.2 640.7,1595.7 647.2,1570.8 654.7,1555.8 660.6,1563.3 667.1,1598.2 673.6,1585.7 680.6,1580.7 685.5,1575.8 690.5,1563.3 695.5,1562.3 700.5,1548.4 707.0,1544.4 712.0,1575.8 718.4,1562.3 724.4,1564.3 730.4,1573.3 736.9,1562.3 744.3,1545.9 751.8,1518.5 759.3,1533.4 766.8,1570.8 774.2,1615.6 778.2,1617.1 783.2,1585.7 789.2,1595.7 794.2,1615.6 800.1,1639.0 805.6,1638.0 811.6,1605.7 818.1,1603.2 824.1,1605.7 831.5,1583.2 838.0,1565.8 845.0,1548.4 853.0,1559.3 857.9,1563.3 863.9,1578.3 868.9,1553.3 876.4,1535.9 883.8,1516.0 889.8,1497.5 896.3,1483.6 901.3,1461.2 906.3,1452.7 912.7,1447.7 917.7,1423.8 923.7,1416.3 928.7,1412.8 934.7,1369.0 939.7,1406.4 944.6,1397.4 951.1,1406.4 956.1,1413.8 962.6,1441.2 967.6,1436.3 975.0,1441.2 979.0,1446.2 984.0,1506.0 989.9,1483.6 994.9,1503.5 1000.9,1461.2 1007.4,1458.7 1012.4,1453.7 1018.3,1438.7 1022.3,1488.6 1028.3,1456.2 1033.8,1473.6 1038.8,1493.6 1044.7,1473.6 1050.7,1454.7 1055.7,1452.7 1061.2,1416.8 1067.2,1447.7 1072.1,1451.2 1078.6,1498.5 1083.6,1473.6 1088.6,1471.1 1094.6,1423.8 1100.5,1381.4 1106.0,1368.0 1112.0,1367.0 1118.0,1339.1 1124.5,1279.3 1130.4,1217.0 1135.4,1184.6 1139.4,1179.7 1145.4,1197.1 1150.4,1199.6 1155.4,1205.6 1160.3,1208.6 1166.8,1269.3 1171.8,1276.8 1177.8,1314.2 1183.3,1300.2 1189.2,1329.1 1194.2,1329.1 1199.2,1323.1 1204.2,1356.5 1210.2,1388.9 1216.6,1427.8 1221.6,1418.8 1228.1,1448.7 1234.1,1463.7 1240.1,1473.6 1245.0,1548.4 1251.5,1583.2 1256.5,1483.6 1261.5,1493.6 1267.5,1418.8 1272.9,1478.6 1277.9,1451.2 1283.9,1478.6 1288.9,1483.6 1294.9,1473.6 1299.8,1451.2 1306.3,1488.6 1311.3,1506.0 1316.3,1516.0 1322.3,1486.1 1327.2,1482.6 1341.3,1478.3 1344.5,1459.0 1350.0,1452.5 1355.9,1429.9 1360.7,1407.2 1367.2,1408.9 1373.6,1402.4 1378.5,1363.6 1384.9,1371.7 1391.4,1394.3 1396.3,1400.8 1401.1,1376.5 1405.0,1355.5 1410.8,1363.6 1416.6,1383.0 1422.1,1347.4 1427.0,1290.9 1432.8,1274.7 1439.2,1258.6 1444.7,1179.4 1450.2,1147.1 1456.1,1174.5 1461.9,1151.9" fill="none" stroke="#F23645" stroke-width="3.2" stroke-linejoin="round" stroke-linecap="round"/>
<polyline points="151.0,1513.5 157.4,1588.2 162.4,1588.2 167.4,1578.3 173.9,1563.3 178.9,1568.3 184.8,1528.4 189.8,1493.6 194.8,1458.7 202.3,1458.7 207.3,1486.1 212.2,1448.7 219.7,1418.8 229.7,1351.5 239.7,1336.6 242.1,1334.1 247.1,1229.5 252.1,1124.8 257.1,1204.6 263.6,1234.5 267.1,1316.7 272.0,1299.2 278.5,1331.6 284.5,1254.4 289.5,1224.5 297.0,1324.1 306.9,1418.8 311.9,1503.5 316.9,1628.1 321.9,1742.7 325.4,1737.7 329.3,1705.3 334.3,1742.7 340.3,1777.6 346.8,1653.0 351.8,1583.2 357.7,1550.9 362.7,1570.8 368.2,1503.5 374.2,1508.5 380.2,1443.7 385.1,1468.6 391.6,1408.8 395.1,1393.9 400.1,1456.2 406.6,1441.2 411.5,1381.4 417.5,1383.9 422.5,1458.7 429.0,1473.6 434.0,1396.4 439.0,1423.8 444.9,1329.1 451.4,1309.2 456.4,1331.6 462.9,1279.3 467.9,1311.7 474.8,1311.7 481.3,1256.9 485.3,1234.5 491.3,1264.4 496.3,1279.3 502.7,1289.3 507.7,1359.0 512.7,1516.0 518.7,1406.4 523.7,1428.8 527.6,1463.7 533.6,1388.9 538.6,1341.6 544.6,1369.0 551.1,1381.4 557.5,1466.1 562.5,1437.7 569.0,1438.7 573.9,1434.8 578.9,1398.9 584.9,1401.4 589.9,1391.4 595.9,1340.1 602.3,1344.1 608.8,1364.0 613.8,1370.5 618.3,1361.5 623.8,1401.4 629.7,1451.2 634.7,1441.2 642.2,1461.2 647.2,1403.9 650.7,1378.0 655.6,1379.0 662.1,1388.9 667.1,1457.7 674.6,1418.8 679.6,1401.4 684.5,1396.4 689.5,1379.0 699.5,1354.0 707.0,1327.6 713.4,1393.9 716.9,1382.9 723.4,1396.4 729.4,1436.3 734.4,1441.2 740.4,1408.8 745.3,1416.3 751.8,1369.0 756.8,1393.9 764.3,1438.7 769.3,1488.6 773.2,1535.9 778.2,1558.3 783.2,1521.0 788.2,1535.9 794.2,1570.8 801.6,1602.2 806.6,1605.7 810.1,1530.9 816.6,1528.4 823.1,1553.3 829.0,1513.5 834.0,1493.6 839.0,1486.1 845.5,1471.1 853.0,1478.6 857.9,1508.5 862.9,1518.5 867.9,1478.6 873.9,1461.2 878.9,1438.7 883.8,1423.8 889.8,1401.4 896.3,1396.4 901.3,1349.1 906.3,1331.6 911.3,1331.6 917.2,1304.2 922.7,1307.7 927.7,1289.3 933.7,1214.5 938.7,1269.3 944.6,1266.8 951.1,1294.3 956.1,1314.2 962.6,1361.5 967.6,1331.6 974.0,1364.0 979.0,1368.0 984.0,1438.7 989.9,1401.4 994.9,1439.7 1000.9,1364.0 1007.4,1376.5 1012.4,1368.0 1018.3,1349.1 1022.3,1408.8 1028.3,1368.0 1033.8,1388.9 1039.8,1419.8 1044.7,1408.8 1050.7,1374.0 1055.7,1375.0 1061.2,1331.6 1067.2,1379.0 1073.1,1411.3 1078.6,1533.4 1084.6,1488.6 1089.6,1468.6 1095.6,1413.8 1101.0,1364.0 1107.0,1336.6 1113.0,1344.1 1118.0,1334.1 1124.5,1269.3 1129.4,1204.6 1134.4,1172.2 1140.4,1163.7 1145.4,1170.7 1151.9,1149.8 1155.4,1139.8 1160.3,1136.3 1166.8,1204.6 1171.8,1189.6 1176.8,1227.0 1182.8,1217.0 1189.2,1254.4 1200.2,1255.9 1206.7,1304.2 1211.7,1329.1 1216.6,1383.9 1221.6,1374.0 1226.6,1418.8 1234.1,1422.8 1240.1,1434.8 1245.0,1518.5 1251.5,1530.9 1256.5,1428.8 1261.5,1456.2 1267.5,1396.4 1272.9,1451.2 1277.9,1434.8 1282.9,1439.7 1288.9,1456.2 1293.9,1426.3 1298.8,1386.4 1304.8,1428.8 1311.3,1458.7 1317.3,1483.6 1322.8,1428.8 1328.7,1418.8 1333.2,1452.5 1338.1,1423.4 1344.5,1402.4 1350.0,1404.0 1357.5,1386.2 1363.9,1370.1 1372.0,1360.4 1378.5,1313.5 1386.6,1349.1 1394.6,1384.6 1400.5,1371.7 1407.6,1355.5 1412.4,1352.3 1417.3,1350.7 1422.1,1316.7 1427.0,1266.6 1433.4,1258.6 1438.3,1232.7 1444.7,1168.1 1450.2,1135.7 1455.4,1151.9 1460.9,1147.1 1466.7,1042.7" fill="none" stroke="#2962FF" stroke-width="3.2" stroke-linejoin="round" stroke-linecap="round"/>
</g>
<circle cx="1467" cy="1043" r="5.5" fill="#2962FF"/>
<rect x="57.5" y="1027" width="92" height="32.5" rx="3" fill="#F23645"/>
<text x="134" y="1050.5" font-size="21" fill="#fff" text-anchor="end" font-weight="bold" stroke="#fff" stroke-width="0.3">111.15</text>
<rect x="1526" y="1027" width="81.5" height="59" rx="3" fill="#2962FF"/>
<text x="1597" y="1052" font-size="21" fill="#fff" text-anchor="end" font-weight="bold" stroke="#fff" stroke-width="0.3">60.12</text>
<text x="1597" y="1077.5" font-size="21" fill="#DDE6FF" text-anchor="end" stroke="#DDE6FF" stroke-width="0.3">1d 4h</text>
<rect x="1654" y="1027" width="81" height="33" rx="3" fill="#388E3C"/>
<text x="1724.5" y="1052" font-size="21" fill="#fff" text-anchor="end" font-weight="bold" stroke="#fff" stroke-width="0.3">56.22</text>
<g><circle cx="1466" cy="1828" r="19" fill="none" stroke="#9C27B0" stroke-width="3"/><path d="M1471 1817 L1459 1831 L1466 1830 L1461 1840 L1474 1825 L1467 1826 Z" fill="#9C27B0"/><circle cx="1479" cy="1815" r="5" fill="#F23645"/></g>
<text x="167" y="1889" font-size="20" fill="#131722" textLength="153" lengthAdjust="spacingAndGlyphs" stroke="#131722" stroke-width="0.3">TSI (25, 13, 13)</text>
<text x="335.5" y="1889" font-size="20" fill="#2962FF" textLength="77" lengthAdjust="spacingAndGlyphs" stroke="#2962FF" stroke-width="0.3">38.7848</text>
<text x="427.5" y="1889" font-size="20" fill="#E91E63" textLength="77.5" lengthAdjust="spacingAndGlyphs" stroke="#E91E63" stroke-width="0.3">20.6902</text>
<text x="167" y="1952" font-size="20" fill="#131722" textLength="207" lengthAdjust="spacingAndGlyphs" stroke="#131722" stroke-width="0.3">MACD (12, 26, close)</text>
<text x="389" y="1952" font-size="20" fill="#26A69A" textLength="42" lengthAdjust="spacingAndGlyphs" stroke="#26A69A" stroke-width="0.3">1.39</text>
<text x="446" y="1952" font-size="20" fill="#2962FF" textLength="42" lengthAdjust="spacingAndGlyphs" stroke="#2962FF" stroke-width="0.3">3.82</text>
<text x="503" y="1952" font-size="20" fill="#FF6D00" textLength="42" lengthAdjust="spacingAndGlyphs" stroke="#FF6D00" stroke-width="0.3">2.43</text>
<text x="268" y="2012" font-size="22" fill="#131722" text-anchor="middle" font-weight="bold">2008</text>
<text x="402" y="2012" font-size="22" fill="#131722" text-anchor="middle" font-weight="bold">2010</text>
<text x="535" y="2012" font-size="22" fill="#131722" text-anchor="middle" font-weight="bold">2012</text>
<text x="668" y="2012" font-size="22" fill="#131722" text-anchor="middle" font-weight="bold">2014</text>
<text x="801" y="2012" font-size="22" fill="#131722" text-anchor="middle" font-weight="bold">2016</text>
<text x="934" y="2012" font-size="22" fill="#131722" text-anchor="middle" font-weight="bold">2018</text>
<text x="1067" y="2012" font-size="22" fill="#131722" text-anchor="middle" font-weight="bold">2020</text>
<text x="1200.5" y="2012" font-size="22" fill="#131722" text-anchor="middle" font-weight="bold">2022</text>
<text x="1334" y="2012" font-size="22" fill="#131722" text-anchor="middle" font-weight="bold">2024</text>
<text x="1467" y="2012" font-size="22" fill="#131722" text-anchor="middle" font-weight="bold">2026</text>
<circle cx="101" cy="2004" r="17.5" fill="#F0F0F0"/>
<text x="101" y="2011.5" font-size="21" fill="#787B86" text-anchor="middle" stroke="#787B86" stroke-width="0.3">Z</text>
<circle cx="1589" cy="2004.5" r="17.5" fill="#F0F0F0"/>
<text x="1589" y="2012.0" font-size="21" fill="#787B86" text-anchor="middle" stroke="#787B86" stroke-width="0.3">A</text>
<circle cx="1702" cy="2004.5" r="17.5" fill="#F0F0F0"/>
<text x="1702" y="2012.0" font-size="21" fill="#787B86" text-anchor="middle" stroke="#787B86" stroke-width="0.3">B</text>
<g transform="translate(54,2071) scale(1.0)" fill="#131722"><path d="M0 0 H23 V29 H11.5 V12 H0 Z"/><circle cx="31" cy="6" r="5.5"/><path d="M44 0 H55 L43 29 H30 Z"/></g>
<text x="123.6" y="2100" font-size="37.12" fill="#131722" font-weight="bold" textLength="225.4" lengthAdjust="spacingAndGlyphs">TradingView</text>
<text x="1868" y="955" font-size="21" fill="#131722" textLength="653" lengthAdjust="spacingAndGlyphs" stroke="#131722" stroke-width="0.3">lukegromen created with TradingView.com, Jan 28, 2026 21:01 UTC</text>
<rect x="1867.5" y="968.5" width="1628.5" height="1031.0" fill="none" stroke="#F5F5F5" stroke-width="2"/>
<line x1="2091" y1="968.5" x2="2091" y2="1829" stroke="#F4F4F4" stroke-width="2"/>
<line x1="2231" y1="968.5" x2="2231" y2="1829" stroke="#F4F4F4" stroke-width="2"/>
<line x1="2374" y1="968.5" x2="2374" y2="1829" stroke="#F4F4F4" stroke-width="2"/>
<line x1="2515" y1="968.5" x2="2515" y2="1829" stroke="#F4F4F4" stroke-width="2"/>
<line x1="2656" y1="968.5" x2="2656" y2="1829" stroke="#F4F4F4" stroke-width="2"/>
<line x1="2796" y1="968.5" x2="2796" y2="1829" stroke="#F4F4F4" stroke-width="2"/>
<line x1="2937" y1="968.5" x2="2937" y2="1829" stroke="#F4F4F4" stroke-width="2"/>
<line x1="3078" y1="968.5" x2="3078" y2="1829" stroke="#F4F4F4" stroke-width="2"/>
<line x1="3222" y1="968.5" x2="3222" y2="1829" stroke="#F4F4F4" stroke-width="2"/>
<line x1="3361.5" y1="968.5" x2="3361.5" y2="1829" stroke="#F4F4F4" stroke-width="2"/>
<line x1="1960" y1="1031" x2="3375" y2="1031" stroke="#F4F4F4" stroke-width="2"/>
<line x1="1960" y1="1089" x2="3375" y2="1089" stroke="#F4F4F4" stroke-width="2"/>
<line x1="1960" y1="1153.7" x2="3375" y2="1153.7" stroke="#F4F4F4" stroke-width="2"/>
<line x1="1960" y1="1218" x2="3375" y2="1218" stroke="#F4F4F4" stroke-width="2"/>
<line x1="1960" y1="1291.5" x2="3375" y2="1291.5" stroke="#F4F4F4" stroke-width="2"/>
<line x1="1960" y1="1355.5" x2="3375" y2="1355.5" stroke="#F4F4F4" stroke-width="2"/>
<line x1="1960" y1="1422" x2="3375" y2="1422" stroke="#F4F4F4" stroke-width="2"/>
<line x1="1960" y1="1492" x2="3375" y2="1492" stroke="#F4F4F4" stroke-width="2"/>
<line x1="1960" y1="1556.6" x2="3375" y2="1556.6" stroke="#F4F4F4" stroke-width="2"/>
<line x1="1960" y1="1624" x2="3375" y2="1624" stroke="#F4F4F4" stroke-width="2"/>
<line x1="1960" y1="1679" x2="3375" y2="1679" stroke="#F4F4F4" stroke-width="2"/>
<line x1="1960" y1="1734.7" x2="3375" y2="1734.7" stroke="#F4F4F4" stroke-width="2"/>
<line x1="1960" y1="1795" x2="3375" y2="1795" stroke="#F4F4F4" stroke-width="2"/>
<clipPath id="clipTop"><rect x="3380" y="969" width="110" height="900"/></clipPath>
<text x="3390" y="979.2" font-size="21" fill="#131722" textLength="67.44" lengthAdjust="spacingAndGlyphs" stroke="#131722" stroke-width="0.3" clip-path="url(#clipTop)">130.00</text>
<text x="3390" y="1038.5" font-size="21" fill="#131722" textLength="55.18" lengthAdjust="spacingAndGlyphs" stroke="#131722" stroke-width="0.3">80.00</text>
<text x="3390" y="1096.5" font-size="21" fill="#131722" textLength="55.18" lengthAdjust="spacingAndGlyphs" stroke="#131722" stroke-width="0.3">50.00</text>
<text x="3390" y="1161.2" font-size="21" fill="#131722" textLength="55.18" lengthAdjust="spacingAndGlyphs" stroke="#131722" stroke-width="0.3">30.00</text>
<text x="3390" y="1299.0" font-size="21" fill="#131722" textLength="55.18" lengthAdjust="spacingAndGlyphs" stroke="#131722" stroke-width="0.3">10.00</text>
<text x="3390" y="1363.0" font-size="21" fill="#131722" textLength="42.92" lengthAdjust="spacingAndGlyphs" stroke="#131722" stroke-width="0.3">6.00</text>
<text x="3390" y="1429.5" font-size="21" fill="#131722" textLength="42.92" lengthAdjust="spacingAndGlyphs" stroke="#131722" stroke-width="0.3">3.50</text>
<text x="3390" y="1499.5" font-size="21" fill="#131722" textLength="42.92" lengthAdjust="spacingAndGlyphs" stroke="#131722" stroke-width="0.3">2.00</text>
<text x="3390" y="1564.1" font-size="21" fill="#131722" textLength="42.92" lengthAdjust="spacingAndGlyphs" stroke="#131722" stroke-width="0.3">1.20</text>
<text x="3390" y="1631.5" font-size="21" fill="#131722" textLength="42.92" lengthAdjust="spacingAndGlyphs" stroke="#131722" stroke-width="0.3">0.70</text>
<text x="3390" y="1686.5" font-size="21" fill="#131722" textLength="42.92" lengthAdjust="spacingAndGlyphs" stroke="#131722" stroke-width="0.3">0.45</text>
<text x="3390" y="1742.2" font-size="21" fill="#131722" textLength="42.92" lengthAdjust="spacingAndGlyphs" stroke="#131722" stroke-width="0.3">0.29</text>
<text x="3390" y="1802.5" font-size="21" fill="#131722" textLength="42.92" lengthAdjust="spacingAndGlyphs" stroke="#131722" stroke-width="0.3">0.18</text>
<text x="1944.5" y="1005.4" font-size="21" fill="#131722" text-anchor="end" textLength="55.18" lengthAdjust="spacingAndGlyphs" stroke="#131722" stroke-width="0.3">10.00</text>
<text x="1944.5" y="1076.1" font-size="21" fill="#131722" text-anchor="end" textLength="42.92" lengthAdjust="spacingAndGlyphs" stroke="#131722" stroke-width="0.3">9.00</text>
<text x="1944.5" y="1154.8" font-size="21" fill="#131722" text-anchor="end" textLength="42.92" lengthAdjust="spacingAndGlyphs" stroke="#131722" stroke-width="0.3">8.00</text>
<text x="1944.5" y="1243.8" font-size="21" fill="#131722" text-anchor="end" textLength="42.92" lengthAdjust="spacingAndGlyphs" stroke="#131722" stroke-width="0.3">7.00</text>
<text x="1944.5" y="1346.4" font-size="21" fill="#131722" text-anchor="end" textLength="42.92" lengthAdjust="spacingAndGlyphs" stroke="#131722" stroke-width="0.3">6.00</text>
<text x="1944.5" y="1416.3" font-size="21" fill="#131722" text-anchor="end" textLength="42.92" lengthAdjust="spacingAndGlyphs" stroke="#131722" stroke-width="0.3">5.40</text>
<text x="1944.5" y="1553.0" font-size="21" fill="#131722" text-anchor="end" textLength="42.92" lengthAdjust="spacingAndGlyphs" stroke="#131722" stroke-width="0.3">4.40</text>
<text x="1944.5" y="1616.6" font-size="21" fill="#131722" text-anchor="end" textLength="42.92" lengthAdjust="spacingAndGlyphs" stroke="#131722" stroke-width="0.3">4.00</text>
<text x="1944.5" y="1686.5" font-size="21" fill="#131722" text-anchor="end" textLength="42.92" lengthAdjust="spacingAndGlyphs" stroke="#131722" stroke-width="0.3">3.60</text>
<text x="1944.5" y="1744.5" font-size="21" fill="#131722" text-anchor="end" textLength="42.92" lengthAdjust="spacingAndGlyphs" stroke="#131722" stroke-width="0.3">3.30</text>
<text x="1944.5" y="1808.1" font-size="21" fill="#131722" text-anchor="end" textLength="42.92" lengthAdjust="spacingAndGlyphs" stroke="#131722" stroke-width="0.3">3.00</text>
<line x1="1867.5" y1="1829.5" x2="3496" y2="1829.5" stroke="#E2E4E7" stroke-width="2"/>
<line x1="1867.5" y1="1890.5" x2="3496" y2="1890.5" stroke="#E2E4E7" stroke-width="2"/>
<line x1="1867.5" y1="1950.5" x2="3496" y2="1950.5" stroke="#E2E4E7" stroke-width="2"/>
<text x="1976" y="1002.5" font-size="20" fill="#131722" textLength="267" lengthAdjust="spacingAndGlyphs" stroke="#131722" stroke-width="0.3">BTCUSD/GOLD · 1W · INDEX</text>
<text x="2256" y="1002.5" font-size="20" fill="#2962FF" textLength="51" lengthAdjust="spacingAndGlyphs" stroke="#2962FF" stroke-width="0.3">16.51</text>
<text x="2322" y="1002.5" font-size="20" fill="#2962FF" textLength="140" lengthAdjust="spacingAndGlyphs" stroke="#2962FF" stroke-width="0.3">−0.85 (−4.88%)</text>
<text x="1976" y="1032.5" font-size="20" fill="#131722" textLength="201" lengthAdjust="spacingAndGlyphs" stroke="#131722" stroke-width="0.3">NDX/GOLD · NASDAQ</text>
<text x="2190" y="1032.5" font-size="20" fill="#F23645" textLength="40" lengthAdjust="spacingAndGlyphs" stroke="#F23645" stroke-width="0.3">4.83</text>
<text x="2245" y="1032.5" font-size="20" fill="#F23645" textLength="140" lengthAdjust="spacingAndGlyphs" stroke="#F23645" stroke-width="0.3">−0.30 (−5.86%)</text>
<line x1="1960" y1="1228" x2="3375" y2="1228" stroke="#2962FF" stroke-opacity="0.75" stroke-width="1.4" stroke-dasharray="1.4 3"/>
<g clip-path="url(#clipR)">
<polyline points="1961.0,1682.8 1964.0,1747.5 1969.0,1707.7 1975.9,1697.7 1982.4,1660.3 1985.9,1675.3 1989.9,1670.3 1993.9,1725.1 1999.8,1722.6 2004.8,1657.8 2009.8,1707.7 2014.8,1745.0 2019.8,1730.1 2024.8,1697.7 2029.7,1687.7 2035.7,1677.8 2040.7,1682.8 2044.7,1692.7 2048.7,1665.3 2052.2,1670.3 2057.1,1632.9 2062.1,1640.4 2067.1,1682.8 2070.6,1630.4 2074.6,1588.1 2078.6,1603.0 2083.6,1553.2 2089.5,1563.2 2094.5,1578.1 2099.5,1558.2 2104.5,1568.2 2109.5,1558.2 2115.4,1535.8 2121.9,1558.2 2126.9,1580.6 2131.9,1538.3 2136.9,1508.4 2143.3,1525.8 2150.3,1520.8 2155.3,1515.8 2160.3,1523.3 2164.3,1495.9 2170.2,1508.4 2176.7,1530.8 2181.7,1528.3 2185.2,1545.7 2191.7,1508.4 2196.7,1493.4 2202.6,1473.5 2209.1,1463.5 2214.1,1468.5 2220.1,1441.1 2224.1,1458.5 2229.0,1471.0 2234.0,1443.6 2240.0,1433.6 2246.5,1473.5 2253.0,1433.6 2256.4,1412.7 2261.4,1478.5 2266.4,1481.0 2273.9,1448.6 2281.4,1423.7 2288.8,1398.7 2293.8,1378.8 2301.3,1348.9 2309.8,1334.0 2314.7,1324.0 2321.2,1304.1 2326.2,1311.5 2329.7,1299.1 2334.7,1295.1 2338.7,1334.0 2343.6,1361.4 2346.1,1388.8 2351.1,1358.9 2356.1,1388.8 2359.6,1378.8 2362.6,1418.7 2367.6,1483.4 2376.0,1423.7 2382.5,1428.6 2389.9,1416.2 2394.9,1393.8 2402.4,1378.8 2407.4,1353.9 2412.4,1334.0 2417.3,1324.0 2422.3,1363.9 2428.8,1398.7 2434.8,1388.8 2439.8,1396.3 2443.7,1383.8 2448.7,1378.8 2452.2,1418.7 2455.7,1448.6 2460.7,1473.5 2465.7,1433.6 2469.7,1421.2 2474.6,1441.1 2480.6,1423.7 2487.1,1408.7 2490.6,1378.8 2497.1,1368.8 2502.0,1366.4 2507.0,1353.9 2512.0,1371.3 2517.0,1351.4 2522.0,1366.4 2528.4,1329.0 2531.9,1363.9 2536.9,1448.6 2541.9,1505.9 2546.9,1505.9 2551.9,1443.6 2555.4,1448.6 2561.8,1421.2 2566.8,1393.8 2571.8,1368.8 2576.8,1383.8 2581.8,1373.8 2585.2,1336.5 2589.2,1358.9 2594.2,1393.8 2599.2,1383.8 2604.2,1328.0 2609.2,1343.9 2613.1,1382.8 2616.6,1339.0 2621.6,1319.0 2625.1,1311.5 2629.1,1348.9 2634.1,1314.0 2639.1,1284.1 2643.0,1249.3 2649.0,1259.2 2654.0,1234.3 2659.0,1221.9 2664.0,1229.3 2669.0,1182.0 2674.9,1187.0 2678.9,1194.5 2684.9,1192.0 2691.4,1149.6 2696.4,1154.6 2701.3,1159.6 2706.3,1221.9 2711.3,1216.9 2716.3,1147.1 2722.8,1127.2 2727.7,1132.2 2732.7,1114.7 2738.7,1102.3 2743.7,1104.8 2752.7,1087.3 2757.6,1112.2 2762.6,1099.8 2767.6,1092.3 2772.6,1069.9 2777.6,1074.9 2782.6,1079.9 2786.0,1057.4 2789.0,1079.9 2792.5,1069.9 2799.0,1099.8 2802.4,1154.6 2805.9,1137.2 2809.9,1184.5 2814.9,1189.5 2819.9,1264.2 2823.9,1192.0 2828.8,1172.0 2833.8,1224.4 2838.8,1249.3 2843.8,1259.2 2847.3,1291.6 2851.3,1251.8 2857.2,1324.0 2862.2,1284.1 2867.2,1239.3 2873.7,1206.9 2878.7,1192.0 2883.7,1184.5 2888.6,1226.8 2892.1,1206.9 2897.1,1249.3 2902.1,1281.7 2907.1,1284.1 2910.6,1236.8 2914.5,1266.7 2919.5,1266.7 2924.5,1269.2 2929.5,1319.0 2937.0,1346.4 2943.4,1321.5 2948.4,1266.7 2954.4,1274.2 2959.4,1259.2 2963.4,1304.1 2968.4,1279.2 2973.3,1266.7 2979.3,1271.7 2984.3,1259.2 2989.3,1204.4 2994.3,1189.5 2999.3,1169.5 3004.2,1154.6 3009.2,1159.6 3015.2,1147.1 3021.7,1162.1 3028.1,1147.1 3033.1,1162.1 3038.1,1174.5 3043.1,1134.7 3046.6,1179.5 3050.1,1219.4 3056.5,1147.1 3061.5,1149.6 3065.0,1179.5 3070.0,1132.2 3075.0,1134.7 3079.0,1147.1 3084.0,1099.8 3092.9,1077.4 3098.9,1084.8 3102.9,1122.2 3107.9,1109.8 3113.8,1169.5 3117.8,1224.4 3122.8,1167.1 3128.8,1144.6 3133.8,1154.6 3139.8,1109.8 3146.2,1104.8 3151.2,1112.2 3156.2,1147.1 3161.2,1187.0 3167.7,1159.6 3172.6,1199.4 3178.6,1184.5 3183.6,1182.0 3189.6,1199.4 3194.6,1206.9 3199.5,1144.6 3204.8,1155.5 3208.3,1129.2 3211.8,1136.2 3215.3,1129.2 3218.8,1136.2 3221.2,1167.7 3224.7,1152.0 3229.3,1171.2 3231.7,1187.0 3235.2,1174.7 3237.7,1202.7 3241.2,1207.9 3245.7,1270.9 3249.2,1281.4 3252.7,1319.9 3254.5,1368.9 3257.3,1367.2 3259.7,1398.6 3263.2,1340.9 3265.7,1314.7 3269.2,1335.7 3270.2,1263.9 3273.7,1312.9 3277.2,1277.9 3279.7,1305.9 3283.2,1291.9 3286.7,1246.4 3291.2,1249.9 3294.7,1251.7 3298.2,1237.7 3300.7,1256.9 3305.2,1225.4 3310.5,1253.4 3313.3,1274.4 3318.2,1265.7 3321.7,1284.9 3328.0,1354.9 3334.3,1288.4 3339.2,1316.4 3343.7,1340.9 3348.3,1325.2 3351.8,1354.9 3355.3,1358.4 3357.7,1375.9 3361.2,1356.7 3366.4,1389.9 3369.9,1482.6" fill="none" stroke="#F23645" stroke-width="3.2" stroke-linejoin="round" stroke-linecap="round"/>
<polyline points="1961.0,1722.6 1966.0,1707.7 1970.9,1720.1 1977.4,1712.6 1983.9,1715.1 1989.9,1702.7 1994.9,1710.2 2000.8,1707.7 2004.8,1680.3 2009.8,1660.3 2013.3,1645.4 2017.3,1670.3 2022.3,1665.3 2027.2,1675.3 2032.2,1685.2 2039.7,1680.3 2047.2,1680.3 2052.2,1672.8 2058.6,1662.8 2067.1,1652.9 2074.6,1637.9 2082.1,1625.5 2087.0,1598.0 2092.0,1625.5 2097.0,1608.0 2103.5,1603.0 2109.5,1593.1 2114.4,1578.1 2120.4,1610.5 2126.9,1583.1 2131.9,1568.2 2136.9,1535.8 2143.3,1508.4 2149.3,1473.5 2155.3,1490.9 2159.3,1490.9 2164.3,1523.3 2166.8,1483.4 2170.2,1481.0 2174.2,1436.1 2181.7,1423.7 2188.2,1448.6 2191.7,1438.6 2196.7,1403.7 2202.6,1378.8 2206.6,1358.9 2210.1,1386.3 2214.1,1339.0 2219.1,1279.2 2223.1,1238.3 2226.5,1279.2 2230.5,1266.7 2236.5,1311.5 2241.5,1351.4 2245.0,1351.4 2249.0,1324.0 2253.0,1311.5 2257.9,1348.9 2262.9,1371.3 2267.9,1348.9 2271.4,1336.5 2276.4,1329.0 2283.8,1343.9 2288.8,1363.9 2293.8,1378.8 2299.8,1378.8 2303.8,1373.8 2309.8,1341.4 2314.7,1371.3 2321.2,1363.9 2324.7,1353.9 2329.7,1366.4 2336.2,1366.4 2341.1,1371.3 2347.6,1376.3 2351.1,1374.8 2356.1,1423.7 2361.1,1458.5 2366.1,1436.1 2375.0,1451.1 2382.5,1458.5 2387.4,1451.1 2394.9,1441.1 2402.4,1436.1 2407.4,1406.2 2412.4,1401.2 2417.3,1403.7 2419.8,1368.8 2424.8,1339.0 2432.3,1358.9 2437.3,1324.0 2442.2,1316.5 2447.2,1339.0 2452.2,1324.0 2458.7,1343.9 2464.7,1336.5 2469.7,1339.0 2475.6,1371.3 2480.6,1363.9 2485.6,1348.9 2490.6,1351.4 2495.6,1383.8 2500.5,1373.8 2505.5,1383.8 2512.0,1378.8 2517.0,1363.9 2524.5,1346.4 2529.4,1366.4 2534.4,1393.8 2539.4,1421.2 2544.4,1411.2 2550.4,1398.7 2555.4,1388.8 2559.3,1368.8 2564.3,1366.4 2569.3,1371.3 2574.3,1363.9 2579.3,1373.8 2589.2,1372.8 2594.2,1363.9 2600.2,1351.4 2606.7,1366.4 2611.7,1368.8 2616.6,1361.4 2624.1,1353.9 2629.1,1334.0 2634.1,1311.5 2639.1,1291.6 2645.0,1274.2 2649.0,1249.3 2653.0,1229.3 2656.5,1199.4 2663.0,1216.9 2668.0,1179.5 2672.9,1144.6 2677.9,1164.6 2681.4,1137.2 2688.9,1139.7 2694.9,1147.1 2698.8,1167.1 2702.8,1152.1 2706.3,1204.4 2711.3,1214.4 2716.3,1201.9 2723.8,1209.4 2728.7,1219.4 2734.7,1184.5 2741.2,1162.1 2746.2,1164.6 2751.2,1174.5 2756.1,1169.5 2761.1,1144.6 2766.1,1134.7 2773.6,1137.2 2778.6,1162.1 2783.6,1159.6 2790.0,1162.1 2796.0,1182.0 2802.4,1204.4 2807.4,1184.5 2812.4,1197.0 2818.9,1209.4 2824.9,1192.0 2828.8,1182.0 2834.8,1201.9 2840.8,1204.4 2844.8,1221.9 2850.8,1231.8 2855.8,1246.8 2859.7,1279.2 2864.7,1281.7 2869.7,1264.2 2874.7,1256.7 2879.7,1254.3 2884.7,1274.2 2889.6,1259.2 2894.6,1274.2 2902.1,1271.7 2908.6,1269.2 2913.6,1264.2 2915.5,1299.1 2922.0,1296.6 2929.5,1299.1 2935.5,1301.6 2939.5,1284.1 2944.4,1266.7 2949.4,1266.7 2954.4,1259.2 2959.4,1264.2 2964.4,1249.3 2970.4,1246.8 2974.3,1241.8 2980.3,1249.3 2986.8,1246.8 2991.8,1249.3 2996.8,1254.3 3002.7,1234.3 3009.2,1235.3 3014.2,1239.3 3019.2,1239.3 3025.2,1251.8 3031.6,1254.3 3036.6,1251.8 3041.6,1239.3 3045.1,1249.3 3050.1,1221.9 3055.1,1211.9 3061.5,1209.4 3066.5,1194.5 3073.0,1201.9 3079.0,1199.4 3087.9,1199.4 3092.9,1177.0 3096.4,1172.0 3101.4,1149.6 3107.9,1147.1 3112.9,1159.6 3119.8,1167.1 3124.8,1168.6 3128.8,1159.6 3134.8,1152.1 3139.8,1159.6 3144.7,1182.0 3149.7,1162.1 3154.7,1159.6 3158.7,1184.5 3164.7,1177.0 3169.7,1189.5 3176.1,1182.0 3182.6,1179.5 3188.6,1177.0 3193.6,1174.5 3197.6,1139.7 3205.5,1125.7 3209.7,1119.8 3213.2,1132.7 3217.7,1125.7 3221.2,1132.7 3224.7,1125.7 3228.2,1131.0 3232.8,1139.7 3237.7,1143.2 3241.2,1141.5 3244.0,1162.5 3247.5,1160.7 3251.7,1166.0 3255.2,1173.0 3258.7,1173.0 3263.2,1157.2 3268.5,1141.5 3273.7,1145.0 3279.0,1146.7 3282.5,1153.7 3286.7,1141.5 3289.5,1141.5 3292.3,1132.7 3297.2,1132.7 3301.7,1134.5 3306.3,1132.7 3310.5,1145.0 3314.7,1148.5 3319.2,1150.2 3321.7,1145.0 3325.2,1153.7 3329.7,1173.0 3333.2,1164.2 3337.8,1171.2 3342.0,1194.0 3347.2,1195.7 3350.7,1197.5 3355.3,1206.2 3359.5,1199.2 3364.7,1202.7 3368.2,1227.2" fill="none" stroke="#2962FF" stroke-width="3.2" stroke-linejoin="round" stroke-linecap="round"/>
</g>
<circle cx="3369" cy="1228" r="5.5" fill="#2962FF"/>
<rect x="1892.5" y="1468.4" width="66.5" height="29.4" rx="3" fill="#F23645"/>
<text x="1944.5" y="1491" font-size="21" fill="#fff" text-anchor="end" font-weight="bold" stroke="#fff" stroke-width="0.3">4.83</text>
<rect x="3375.7" y="1213" width="76.8" height="56" rx="3" fill="#2962FF"/>
<text x="3443" y="1235.7" font-size="21" fill="#fff" text-anchor="end" font-weight="bold" stroke="#fff" stroke-width="0.3">16.51</text>
<text x="3443" y="1260.7" font-size="21" fill="#DDE6FF" text-anchor="end" stroke="#DDE6FF" stroke-width="0.3">4d 3h</text>
<g clip-path=url(#clipBolt)><circle cx="3365" cy="1806" r="18" fill="none" stroke="#9C27B0" stroke-width="3"/><path d="M3370 1795 L3358 1809 L3365 1808 L3360 1818 L3373 1803 L3366 1804 Z" fill="#9C27B0"/></g>
<text x="1976" y="1865" font-size="20" fill="#131722" textLength="147" lengthAdjust="spacingAndGlyphs" stroke="#131722" stroke-width="0.3">TSI (25, 13, 13)</text>
<text x="2137" y="1865" font-size="20" fill="#2962FF" textLength="85" lengthAdjust="spacingAndGlyphs" stroke="#2962FF" stroke-width="0.3">−36.6441</text>
<text x="2237" y="1865" font-size="20" fill="#E91E63" textLength="85" lengthAdjust="spacingAndGlyphs" stroke="#E91E63" stroke-width="0.3">−26.8712</text>
<text x="1976" y="1925" font-size="20" fill="#131722" textLength="199" lengthAdjust="spacingAndGlyphs" stroke="#131722" stroke-width="0.3">MACD (12, 26, close)</text>
<text x="2188" y="1925" font-size="20" fill="#F23645" textLength="51" lengthAdjust="spacingAndGlyphs" stroke="#F23645" stroke-width="0.3">−0.49</text>
<text x="2254" y="1925" font-size="20" fill="#2962FF" textLength="52" lengthAdjust="spacingAndGlyphs" stroke="#2962FF" stroke-width="0.3">−3.34</text>
<text x="2321" y="1925" font-size="20" fill="#FF6D00" textLength="52" lengthAdjust="spacingAndGlyphs" stroke="#FF6D00" stroke-width="0.3">−2.85</text>
<text x="2091" y="1982.5" font-size="22" fill="#131722" text-anchor="middle" font-weight="bold">2017</text>
<text x="2231" y="1982.5" font-size="22" fill="#131722" text-anchor="middle" font-weight="bold">2018</text>
<text x="2374" y="1982.5" font-size="22" fill="#131722" text-anchor="middle" font-weight="bold">2019</text>
<text x="2515" y="1982.5" font-size="22" fill="#131722" text-anchor="middle" font-weight="bold">2020</text>
<text x="2656" y="1982.5" font-size="22" fill="#131722" text-anchor="middle" font-weight="bold">2021</text>
<text x="2796" y="1982.5" font-size="22" fill="#131722" text-anchor="middle" font-weight="bold">2022</text>
<text x="2937" y="1982.5" font-size="22" fill="#131722" text-anchor="middle" font-weight="bold">2023</text>
<text x="3078" y="1982.5" font-size="22" fill="#131722" text-anchor="middle" font-weight="bold">2024</text>
<text x="3222" y="1982.5" font-size="22" fill="#131722" text-anchor="middle" font-weight="bold">2025</text>
<text x="3355.5" y="1982.5" font-size="22" fill="#131722" text-anchor="middle" font-weight="bold">202</text>
<circle cx="1914.5" cy="1975.5" r="17.5" fill="#F0F0F0"/>
<text x="1914.5" y="1983.0" font-size="21" fill="#787B86" text-anchor="middle" stroke="#787B86" stroke-width="0.3">Z</text>
<circle cx="3435.5" cy="1975" r="17.5" fill="#F0F0F0"/>
<text x="3435.5" y="1982.5" font-size="21" fill="#787B86" text-anchor="middle" stroke="#787B86" stroke-width="0.3">A</text>
<g transform="translate(1870.5,2039) scale(0.9310344827586207)" fill="#131722"><path d="M0 0 H23 V29 H11.5 V12 H0 Z"/><circle cx="31" cy="6" r="5.5"/><path d="M44 0 H55 L43 29 H30 Z"/></g>
<text x="1937.5" y="2066" font-size="34.56" fill="#131722" font-weight="bold" textLength="216.5" lengthAdjust="spacingAndGlyphs">TradingView</text></svg>
</body></html>
